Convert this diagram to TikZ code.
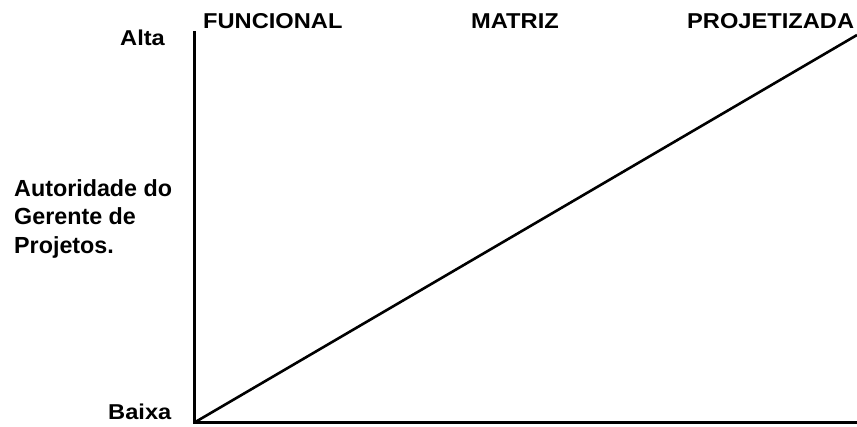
\documentclass[tikz,border=0pt]{standalone}
\usepackage{fontspec}
\setmainfont{Liberation Sans}
\newfontfamily\widesans[FakeStretch=1.1]{Liberation Sans}
\begin{document}
\begin{tikzpicture}[x=1pt,y=-1pt,
  lbl/.style={font=\widesans\bfseries\fontsize{21.5}{25}\selectfont, inner sep=0pt, anchor=base west},
  sidelbl/.style={font=\bfseries\fontsize{23.3}{28.7}\selectfont, inner sep=0pt, anchor=north west, align=left},
  axisline/.style={line width=3pt},
  trend/.style={line width=2.6pt}]
\useasboundingbox (0,0) rectangle (857,426);
\coordinate (top) at (194.5,31);
\coordinate (origin) at (194.5,422.5);
\coordinate (xend) at (857,422.5);
\coordinate (diagend) at (857,35);
\draw[axisline] (top) -- (origin.center) -- (xend);
\draw[trend] (origin) -- (diagend);
\node[lbl] (alta) at (120,45.5) {Alta};
\node[lbl] (baixa) at (108,419.5) {Baixa};
\node[lbl] (func) at (203,28.5) {FUNCIONAL};
\node[lbl] (matriz) at (471,28.5) {MATRIZ};
\node[lbl] (proj) at (687,28.5) {PROJETIZADA};
\node[sidelbl] (aut) at (14,179) {Autoridade do\\Gerente de\\Projetos.};
\end{tikzpicture}
\end{document}
